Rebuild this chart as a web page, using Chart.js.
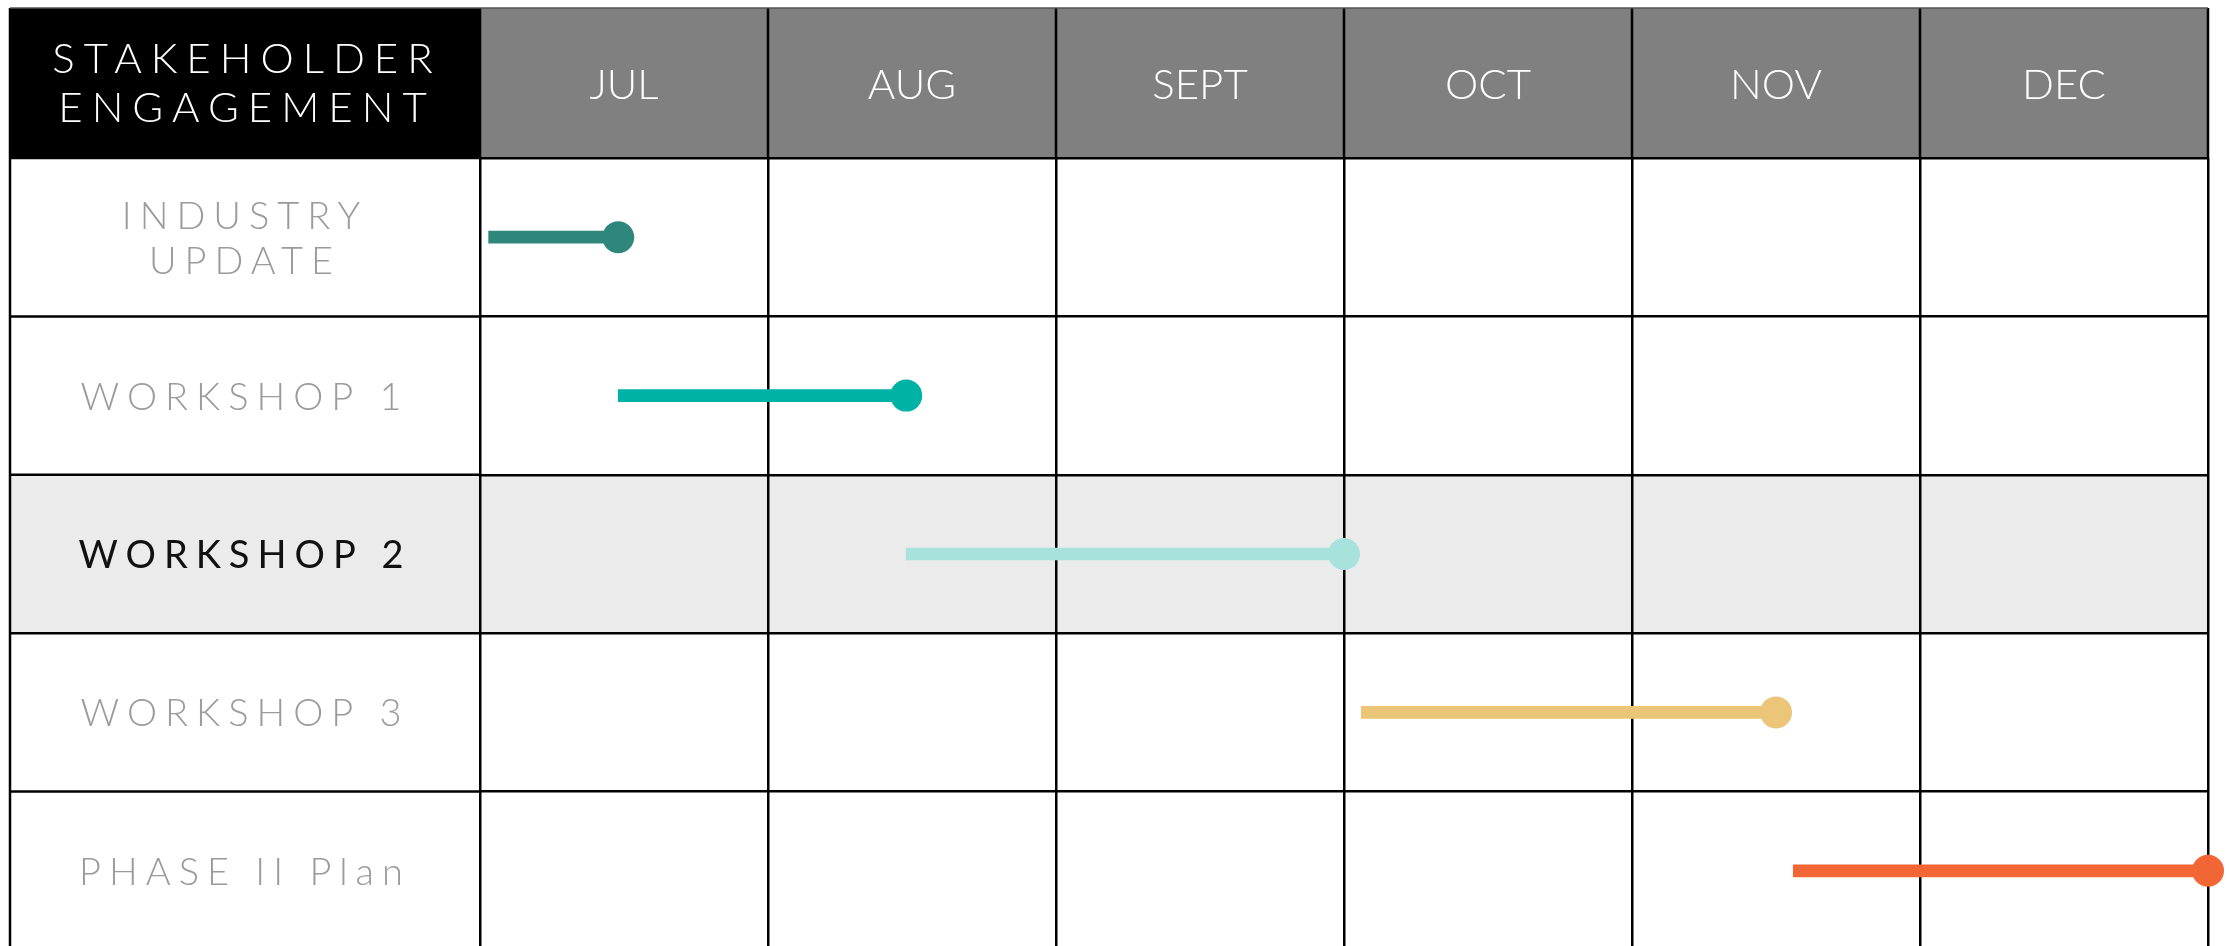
<!DOCTYPE html>
<html>
<head>
<meta charset="utf-8">
<script src="https://cdn.jsdelivr.net/npm/chart.js@4.4.1/dist/chart.umd.min.js"></script>
<style>
  html, body { margin: 0; padding: 0; background: #fff; overflow: hidden; }
  #wrap { width: 2229px; height: 1000px; }
  #myChart { display: block; width: 2229px; height: 1000px; }
</style>
</head>
<body>
<div id="wrap"><canvas id="myChart" width="2229" height="1000"></canvas></div>
<script>
(function () {
    'use strict'

    const months = ['JUL', 'AUG', 'SEPT', 'OCT', 'NOV', 'DEC']
    const tasks = [['INDUSTRY', 'UPDATE'], 'WORKSHOP 1', 'WORKSHOP 2', 'WORKSHOP 3', 'PHASE II Plan']
    // month offsets from start of JUL
    const startMonth = [0.03, 0.48, 1.48, 3.06, 4.56]
    const endMonth = [0.48, 1.48, 3.0, 4.5, 6.0]
    const colors = ['#2f877c', '#00b1a5', '#a8e2dc', '#ebc679', '#f26535']
    const cornerTitle = ['STAKEHOLDER', 'ENGAGEMENT']
    const highlighted = 2

    const bars = startMonth.map((s, i) => [s, endMonth[i]])
    const ends = endMonth.map((e, i) => ({ x: e, y: i }))

    const TL = 10   // table left edge
    const TT = 8    // table top edge

    const tableFrame = {
        id: 'tableFrame',
        beforeDraw(chart) {
            const { ctx, chartArea: a, scales: { y } } = chart
            const half = (y.getPixelForValue(1) - y.getPixelForValue(0)) / 2
            ctx.save()
            ctx.fillStyle = '#fff'
            ctx.fillRect(0, 0, chart.width, chart.height)
            ctx.fillStyle = '#000'
            ctx.fillRect(TL, TT, a.left - TL, a.top - TT)
            ctx.fillStyle = '#808080'
            ctx.fillRect(a.left, TT, a.right - a.left, a.top - TT)
            const cy = y.getPixelForValue(highlighted)
            ctx.fillStyle = '#ebebeb'
            ctx.fillRect(TL, cy - half, a.right - TL, half * 2)
            ctx.restore()
        },
        beforeDatasetsDraw(chart) {
            const { ctx, chartArea: a, scales: { x, y } } = chart
            const half = (y.getPixelForValue(1) - y.getPixelForValue(0)) / 2
            ctx.save()
            ctx.strokeStyle = '#000'
            ctx.lineWidth = 2.5
            ctx.beginPath()
            // left border
            ctx.moveTo(TL, TT); ctx.lineTo(TL, a.bottom)
            // month separators in header
            for (let i = 0; i <= months.length; i++) {
                const px = x.getPixelForValue(i)
                ctx.moveTo(px, TT); ctx.lineTo(px, a.top)
            }
            // row lines in label column
            for (let i = 0; i <= tasks.length; i++) {
                const py = y.getPixelForValue(i) - half
                ctx.moveTo(TL, py); ctx.lineTo(a.left, py)
            }
            ctx.stroke()
            ctx.strokeStyle = '#555'
            ctx.lineWidth = 1.5
            ctx.beginPath()
            ctx.moveTo(TL, TT); ctx.lineTo(a.right, TT)
            ctx.stroke()

            const hc = (TT + a.top) / 2
            const lc = (TL + a.left) / 2

            // corner title
            ctx.fillStyle = '#fff'
            ctx.font = '300 42px Lato'
            ctx.letterSpacing = '9px'
            ctx.textAlign = 'center'
            ctx.textBaseline = 'alphabetic'
            ctx.fillText(cornerTitle[0], lc + 2, hc - 10)
            ctx.fillText(cornerTitle[1], lc + 2, hc + 39)

            // month headers
            ctx.letterSpacing = '0px'
            ctx.font = '300 42px Lato'
            months.forEach((m, i) => {
                ctx.fillText(m, x.getPixelForValue(i + 0.5), hc + 16)
            })

            // row labels
            ctx.letterSpacing = '8px'
            tasks.forEach((t, i) => {
                const cy = y.getPixelForValue(i)
                if (i === highlighted) {
                    ctx.fillStyle = '#111'
                    ctx.font = '400 38px Lato'
                } else {
                    ctx.fillStyle = '#9b9b9b'
                    ctx.font = '300 38px Lato'
                }
                if (Array.isArray(t)) {
                    ctx.fillText(t[0], lc, cy - 8)
                    ctx.fillText(t[1], lc, cy + 37)
                } else {
                    ctx.fillText(t, lc, cy + 14)
                }
            })
            ctx.restore()
        }
    }

    const ctx = document.getElementById('myChart').getContext('2d')

    const data = {
        labels: tasks,
        datasets: [
            {
                type: 'bar',
                data: bars,
                backgroundColor: colors,
                barThickness: 12,
                borderWidth: 0,
                borderSkipped: false,
                order: 2
            },
            {
                type: 'scatter',
                data: ends,
                pointRadius: 16,
                pointHoverRadius: 16,
                pointBackgroundColor: colors,
                pointBorderWidth: 0,
                clip: false,
                order: 1
            }
        ]
    }

    const config = {
        type: 'bar',
        data: data,
        options: {
            indexAxis: 'y',
            responsive: false,
            maintainAspectRatio: false,
            animation: false,
            layout: { padding: { left: 480, top: 158, right: 21, bottom: 50 } },
            plugins: { legend: { display: false }, tooltip: { enabled: false } },
            scales: {
                x: {
                    type: 'linear',
                    min: 0,
                    max: months.length,
                    offset: false,
                    ticks: { display: false, stepSize: 1 },
                    grid: { color: '#000', lineWidth: 2.5, drawTicks: false },
                    border: { display: false },
                    afterFit: (scale) => { scale.height = 0 }
                },
                y: {
                    type: 'category',
                    offset: true,
                    ticks: { display: false },
                    grid: { color: '#000', lineWidth: 2.5, drawTicks: false, offset: true },
                    border: { display: false },
                    afterFit: (scale) => { scale.width = 0 }
                }
            }
        },
        plugins: [tableFrame]
    }

    const myChart = new Chart(ctx, config)
})()
</script>
</body>
</html>
